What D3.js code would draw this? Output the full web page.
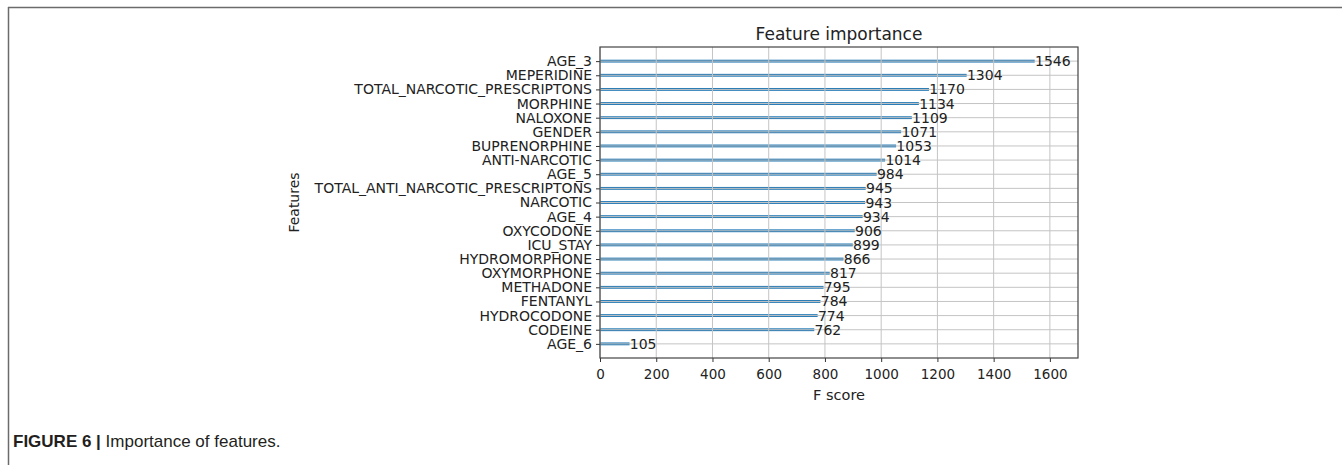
<!DOCTYPE html>
<html>
<head>
<meta charset="utf-8">
<script src="https://cdn.jsdelivr.net/npm/d3@7/dist/d3.min.js"></script>
<style>
  body { margin: 0; background: #fff; }
  svg { display: block; }
  .tick text { font-family: 'DejaVu Sans', sans-serif; font-size: 14px; fill: #222; }
</style>
</head>
<body>
<div id="chart"></div>
<script>
  // feature names, top to bottom as plotted
  var features = ["AGE_3", "MEPERIDINE", "TOTAL_NARCOTIC_PRESCRIPTONS", "MORPHINE", "NALOXONE",
    "GENDER", "BUPRENORPHINE", "ANTI-NARCOTIC", "AGE_5", "TOTAL_ANTI_NARCOTIC_PRESCRIPTONS",
    "NARCOTIC", "AGE_4", "OXYCODONE", "ICU_STAY", "HYDROMORPHONE", "OXYMORPHONE",
    "METHADONE", "FENTANYL", "HYDROCODONE", "CODEINE", "AGE_6"];
  // F score per feature
  var scores = [1546, 1304, 1170, 1134, 1109, 1071, 1053, 1014, 984, 945,
    943, 934, 906, 899, 866, 817, 795, 784, 774, 762, 105];
  var xTicks = [0, 200, 400, 600, 800, 1000, 1200, 1400, 1600];

  var W = 1342, H = 465;
  var svg = d3.select("#chart").append("svg").attr("width", W).attr("height", H);

  // page frame (top and left rules)
  svg.append("line").attr("x1", 8).attr("x2", W).attr("y1", 7.5).attr("y2", 7.5)
     .style("stroke", "#6b6b6b").style("stroke-width", 1.5);
  svg.append("line").attr("x1", 8.5).attr("x2", 8.5).attr("y1", 7).attr("y2", H)
     .style("stroke", "#6b6b6b").style("stroke-width", 1.5);

  var pLeft = 600, pRight = 1078, pTop = 47, pBottom = 358;
  var n = features.length;

  var x = d3.scaleLinear().domain([0, 1700]).range([pLeft, pRight]);
  // matplotlib style positions: bottom item at 0, limits -1..n
  var y = d3.scaleLinear().domain([-1, n]).range([pBottom, pTop]);
  function pos(i) { return y(n - 1 - i); }

  var g = svg.append("g");

  // bars
  var barH = y(0) - y(0.2);
  g.selectAll("rect.bar").data(scores).enter().append("rect")
    .attr("class", "bar")
    .attr("x", x(0))
    .attr("y", function (d, i) { return pos(i) - barH / 2; })
    .attr("width", function (d) { return x(d) - x(0); })
    .attr("height", barH)
    .style("fill", "#1f77b4");

  // grid on top of bars like matplotlib
  g.selectAll("line.vgrid").data(xTicks).enter().append("line")
    .attr("x1", function (d) { return x(d); }).attr("x2", function (d) { return x(d); })
    .attr("y1", pTop).attr("y2", pBottom)
    .style("stroke", "#c4c4c4").style("stroke-width", 1);
  g.selectAll("line.hgrid").data(features).enter().append("line")
    .attr("x1", pLeft).attr("x2", pRight)
    .attr("y1", function (d, i) { return pos(i); }).attr("y2", function (d, i) { return pos(i); })
    .style("stroke", "#c4c4c4").style("stroke-width", 1);

  // value labels
  g.selectAll("text.val").data(scores).enter().append("text")
    .attr("x", function (d) { return x(d + 1); })
    .attr("y", function (d, i) { return pos(i); })
    .attr("dy", "0.36em")
    .style("font-family", "'DejaVu Sans', sans-serif")
    .style("font-size", "14px")
    .style("fill", "#222")
    .text(function (d) { return d; });

  // axes
  var xAxis = d3.axisBottom(x).tickValues(xTicks).tickFormat(d3.format("d"))
     .tickSize(4).tickPadding(7).tickSizeOuter(0);
  svg.append("g").attr("transform", "translate(0," + pBottom + ")").call(xAxis)
     .call(function (a) { a.select(".domain").remove(); })
     .selectAll("text").style("font-size", "13.5px");

  var yAxis = d3.axisLeft(d3.scaleOrdinal().domain(features).range(features.map(function (f, i) { return pos(i); })))
     .tickSize(4).tickPadding(4);
  svg.append("g").attr("transform", "translate(" + pLeft + ",0)").call(yAxis)
     .call(function (a) { a.select(".domain").remove(); });

  svg.selectAll(".tick line").style("stroke", "#333");

  // plot frame
  svg.append("rect").attr("x", pLeft).attr("y", pTop)
     .attr("width", pRight - pLeft).attr("height", pBottom - pTop)
     .style("fill", "none").style("stroke", "#444").style("stroke-width", 1.2);

  // titles
  svg.append("text").attr("x", (pLeft + pRight) / 2).attr("y", 40)
     .attr("text-anchor", "middle")
     .style("font-family", "'DejaVu Sans', sans-serif").style("font-size", "17px").style("fill", "#222")
     .text("Feature importance");
  svg.append("text").attr("x", (pLeft + pRight) / 2).attr("y", 400)
     .attr("text-anchor", "middle")
     .style("font-family", "'DejaVu Sans', sans-serif").style("font-size", "14.5px").style("fill", "#222")
     .text("F score");
  svg.append("text")
     .attr("transform", "translate(299," + (pTop + pBottom) / 2 + ") rotate(-90)")
     .attr("text-anchor", "middle")
     .style("font-family", "'DejaVu Sans', sans-serif").style("font-size", "14px").style("fill", "#222")
     .text("Features");

  // figure caption
  var cap = svg.append("text").attr("x", 13).attr("y", 447)
     .style("font-family", "'Liberation Sans', Arial, sans-serif").style("font-size", "17px").style("fill", "#231f20");
  cap.append("tspan").style("font-weight", "bold").text("FIGURE 6 | ");
  cap.append("tspan").text("Importance of features.");
</script>
</body>
</html>
